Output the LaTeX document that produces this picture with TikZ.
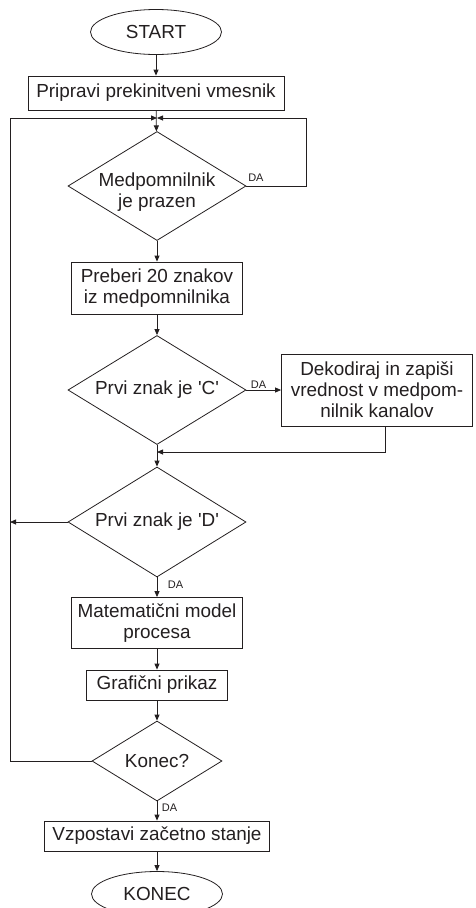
\documentclass[tikz,border=0pt]{standalone}
\usepackage{fontspec}
\setmainfont{Liberation Sans}
\usetikzlibrary{arrows.meta,shapes.geometric}
\definecolor{linec}{RGB}{35,31,32}
\tikzset{
  blk/.style={draw=linec,rectangle,align=center,inner sep=0pt,text=linec,
              font=\fontsize{18.9}{21}\selectfont},
  odl/.style={blk,diamond,aspect=1.63},
  txt/.style={align=center,inner sep=0pt,text=linec,
              font=\fontsize{18.9}{21}\selectfont},
  term/.style={blk,ellipse,minimum width=131,minimum height=45},
  flow/.style={-{Triangle[length=6pt,width=5pt]},line width=0.8pt,draw=linec},
  lbl/.style={font=\fontsize{11}{13}\selectfont,inner sep=1.5pt,text=linec},
}

\begin{document}
\begin{tikzpicture}[x=1pt,y=-1pt,line width=0.8pt]
  \useasboundingbox (0,0) rectangle (475,908);

  \node[term] (start) at (156,32) {START};
  \node[blk,minimum width=256,minimum height=34] (prip) at (156,93)
      {Pripravi prekinitveni vmesnik};
  \node[odl,minimum width=178,minimum height=109] (prazen) at (157,186) {};
  \node[txt] (prazentxt) at (157,192) {Medpomnilnik\\je prazen};
  \node[blk,minimum width=171,minimum height=52] (preberi) at (157,288)
      {Preberi 20 znakov\\iz medpomnilnika};
  \node[odl,minimum width=178,minimum height=109] (znakc) at (157,390)
      {Prvi znak je \textquotesingle C\textquotesingle};
  \node[blk,minimum width=191,minimum height=72] (dekod) at (377,390)
      {Dekodiraj in zapiši\\vrednost v medpom-\\nilnik kanalov};
  \node[odl,minimum width=178,minimum height=110] (znakd) at (157,522)
      {Prvi znak je \textquotesingle D\textquotesingle};
  \node[blk,minimum width=171,minimum height=51] (model) at (157,623)
      {Matematični model\\procesa};
  \node[blk,minimum width=141,minimum height=30] (graf) at (157,685)
      {Grafični prikaz};
  \node[odl,minimum width=130,minimum height=80] (konec) at (157,761)
      {Konec?};
  \node[blk,minimum width=225,minimum height=30] (vzp) at (157,836)
      {Vzpostavi začetno stanje};
  \node[term] (stop) at (157,894) {KONEC};

  \coordinate (vrh)  at (157,118);
  \coordinate (zbir) at (157,452);
  \coordinate (levo) at (10,761);

  \draw[flow] (start) -- (prip);
  \draw[flow] (prip) -- (prazen);
  \draw[flow] (prazen.east) node[lbl,anchor=south west,yshift=3]{DA}
      -- ++(60,0) |- (vrh);
  \draw[flow] (konec.west) -- (levo) |- (vrh);
  \draw[flow] (prazen) -- (preberi);
  \draw[flow] (preberi) -- (znakc);
  \draw[flow] (znakc) -- node[lbl,above,pos=0.35]{DA} (dekod);
  \draw[flow] ([xshift=8]dekod.south) |- (zbir);
  \draw[flow] (znakc) -- (znakd);
  \draw[flow] (znakd.west) -- (znakd.west -| levo);
  \draw[flow] (znakd) -- node[lbl,right,pos=0.35,xshift=9]{DA} (model);
  \draw[flow] (model) -- (graf);
  \draw[flow] (graf) -- (konec);
  \draw[flow] (konec) -- node[lbl,right,pos=0.35,xshift=3]{DA} (vzp);
  \draw[flow] (vzp) -- (stop);
\end{tikzpicture}
\end{document}
